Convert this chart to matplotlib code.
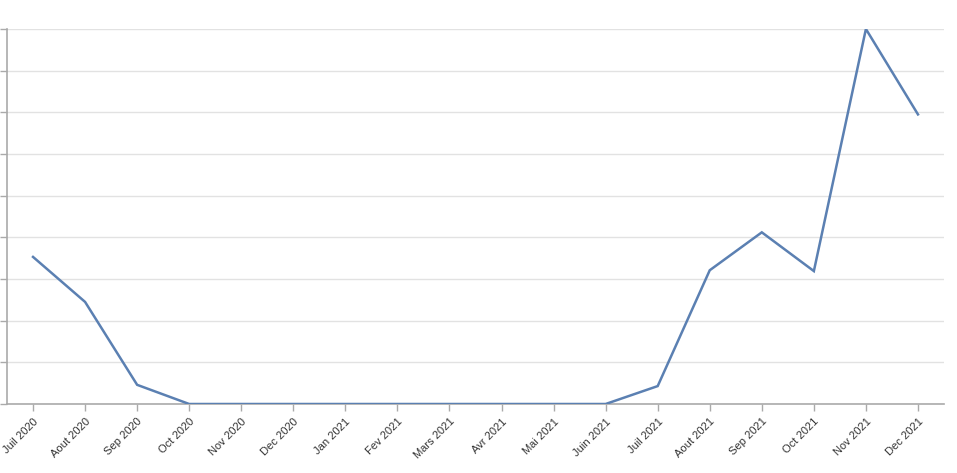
import matplotlib
matplotlib.use("Agg")
import matplotlib.pyplot as plt

months = ['Juil 2020', 'Aout 2020', 'Sep 2020', 'Oct 2020', 'Nov 2020', 'Dec 2020',
          'Jan 2021', 'Fev 2021', 'Mars 2021', 'Avr 2021', 'Mai 2021', 'Juin 2021',
          'Juil 2021', 'Aout 2021', 'Sep 2021', 'Oct 2021', 'Nov 2021', 'Dec 2021']
values = [3.53, 2.45, 0.46, 0, 0, 0, 0, 0, 0, 0, 0, 0, 0.43, 3.21, 4.12, 3.19, 9.0, 6.95]
y_ticks = list(range(10))

plt.rcParams['font.family'] = ['Liberation Sans', 'DejaVu Sans']

fig = plt.figure(figsize=(9.57, 4.73), dpi=100)
ax = fig.add_axes([7 / 957, (473 - 404) / 473, (944 - 7) / 957, (404 - 29) / 473])

x = list(range(len(months)))
ax.plot(x, values, color='#5b80b2', lw=1.8, solid_joinstyle='miter', zorder=3)

ax.set_xlim(-0.5, len(months) - 0.5)
ax.set_ylim(0, 9)
ax.set_yticks(y_ticks)
ax.set_yticklabels([])
ax.set_xticks(x)
ax.set_xticklabels(months, rotation=45, ha='right', rotation_mode='anchor',
                   fontsize=8, color='#333333')

ax.grid(axis='y', color='#e2e2e2', lw=1)
ax.set_axisbelow(True)
for s in ['top', 'right']:
    ax.spines[s].set_visible(False)
for s in ['left', 'bottom']:
    ax.spines[s].set_color('#aaaaaa')
    ax.spines[s].set_linewidth(1.2)
ax.tick_params(axis='both', length=5, width=1, color='#aaaaaa', pad=4)

fig.savefig('out.png', dpi=100)
